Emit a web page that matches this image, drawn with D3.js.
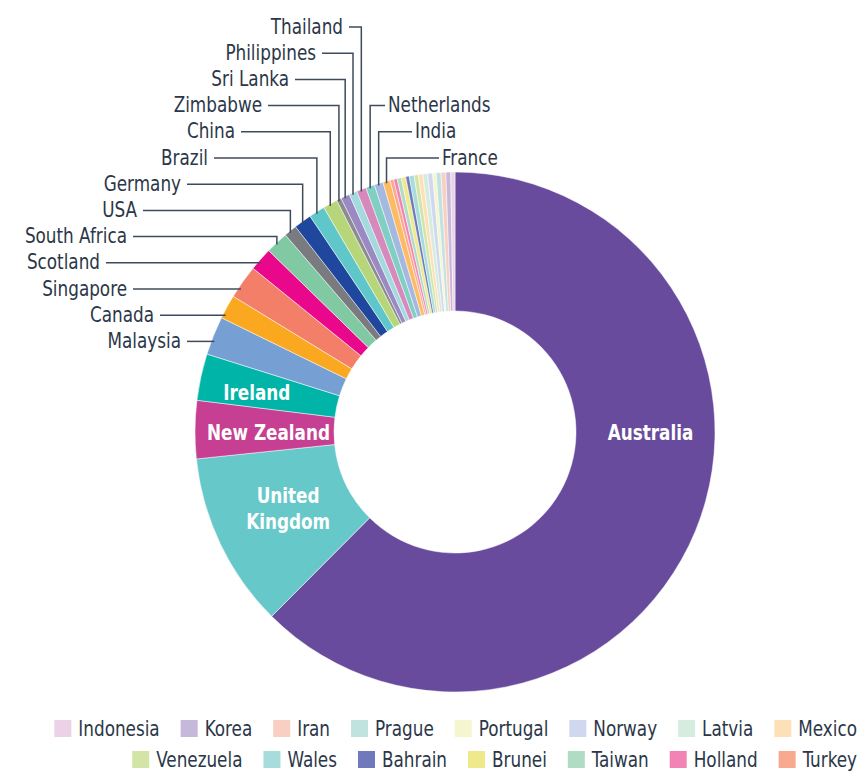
<!DOCTYPE html>
<html>
<head>
<meta charset="utf-8">
<script src="https://cdn.jsdelivr.net/npm/d3@7"></script>
<style>
  body { margin: 0; background: #fff; }
  svg text { font-family: 'DejaVu Sans Condensed', 'Liberation Sans Narrow', 'Roboto', sans-serif; }
</style>
</head>
<body>
<svg id="chart"></svg>
<script>
//////////////// Data ////////////////////
const countries = ["Australia", "United Kingdom", "New Zealand", "Ireland", "Malaysia", "Canada",
  "Singapore", "Scotland", "South Africa", "USA", "Germany", "Brazil", "China", "Zimbabwe",
  "Sri Lanka", "Philippines", "Thailand", "Netherlands", "India", "France",
  "Turkey", "Holland", "Taiwan", "Brunei", "Bahrain", "Wales", "Venezuela", "Mexico",
  "Latvia", "Norway", "Portugal", "Prague", "Iran", "Korea", "Indonesia"];
const shares = [62.5, 10.9, 3.6, 2.9, 2.4, 1.5,
  2.1, 1.45, 1.4, 0.8, 1.1, 1.0, 0.9, 0.3,
  0.55, 0.5, 0.6, 0.55, 0.55, 0.45,
  0.22, 0.22, 0.26, 0.28, 0.22, 0.3, 0.26, 0.28,
  0.3, 0.3, 0.22, 0.3, 0.3, 0.3, 0.26];
const colors = ["#684b9c", "#66c8c9", "#c63f92", "#00b4a8", "#769fd3", "#f9a81f",
  "#f47f68", "#e9088c", "#80c9a3", "#7a7b7f", "#1f479d", "#5fc6c9", "#b7d67a", "#8b8c8f",
  "#9a89c3", "#a3dade", "#d689bb", "#7fcfc2", "#a4b8e0", "#fdbb65",
  "#f9a98d", "#f283b5", "#b0dcc3", "#eee98b", "#6f79bb", "#a6dcdc", "#d2e5a6", "#fde0b8",
  "#d6ecdf", "#cfd8ef", "#f5f5d0", "#c0e3df", "#f9cfc4", "#c5b8db", "#ecd2e6"];

const insideLabels = ["Australia", "United Kingdom", "New Zealand", "Ireland"];
const leftLabels = ["Thailand", "Philippines", "Sri Lanka", "Zimbabwe", "China", "Brazil",
  "Germany", "USA", "South Africa", "Scotland", "Singapore", "Canada", "Malaysia"];
const rightLabels = ["Netherlands", "India", "France"];
const legendItems = countries.slice(20).reverse();

//////////////// Layout ////////////////////
const W = 863, H = 774,
  cx = 455, cy = 432,
  rOuter = 260, rInner = 121,
  sx = 0.85, // squeeze text horizontally, the original font is condensed
  textColor = "#2b3748",
  lineColor = "#3f4b5b";

const svg = d3.select("#chart").attr("width", W).attr("height", H);
const g = svg.append("g").attr("transform", "translate(" + cx + "," + cy + ")");

function addText(parent, x, y, str) {
  return parent.append("text")
    .attr("transform", "translate(" + x + "," + y + ") scale(" + sx + ",1)")
    .text(str);
}

const pie = d3.pie().sort(null).value(d => d);
const arc = d3.arc().innerRadius(rInner).outerRadius(rOuter);
const arcs = pie(shares);
arcs.forEach((a, i) => { a.name = countries[i]; a.color = colors[i]; });
const byName = {};
arcs.forEach(a => byName[a.name] = a);

g.selectAll("path.slice")
  .data(arcs)
  .enter()
  .append("path")
  .attr("class", "slice")
  .attr("d", arc)
  .attr("fill", d => d.color)
  .attr("stroke", "#fff")
  .attr("stroke-width", 0.5);

//////////////// Inside labels ///////////////
const labelR = (rInner + rOuter) / 2;
const angleOverride = {"Australia": Math.PI / 2};
const nudge = {"Australia": [5, 0], "Ireland": [-12, 0], "United Kingdom": [5, -6], "New Zealand": [4, 2]};
insideLabels.forEach(name => {
  const a = byName[name];
  const ang = angleOverride[name] !== undefined ? angleOverride[name] : (a.startAngle + a.endAngle) / 2;
  const n = nudge[name] || [0, 0];
  const x = labelR * Math.sin(ang) + n[0], y = -labelR * Math.cos(ang) + n[1];
  const words = name === "United Kingdom" ? ["United", "Kingdom"] : [name];
  words.forEach((w, j) => {
    addText(g, x, y + (j - (words.length - 1) / 2) * 26, w)
      .attr("dy", "0.36em")
      .attr("text-anchor", "middle")
      .attr("fill", "#fff")
      .style("font-weight", "bold")
      .style("font-size", "22px");
  });
});

//////////////// Outside labels ///////////////
const rowY = i => 27 + 26.2 * i - cy; // leader line y, relative to center
const labelShift = {"USA": -17};

function leader(name, lineY, textX) {
  const a = byName[name];
  const mid = (a.startAngle + a.endAngle) / 2;
  const px = rOuter * Math.sin(mid), py = -rOuter * Math.cos(mid);
  let pts;
  if (py > lineY + 2) {
    pts = [[textX, lineY], [px, lineY], [px, py + 2]];
  } else {
    const ex = -Math.sqrt(rOuter * rOuter - lineY * lineY) + 3;
    pts = [[textX, lineY], [ex, lineY]];
  }
  g.append("path")
    .attr("d", d3.line()(pts))
    .attr("fill", "none")
    .attr("stroke", lineColor)
    .attr("stroke-width", 1.5);
}

leftLabels.forEach((name, i) => {
  const ly = rowY(i);
  const xEnd = 100 + 27 * Math.abs(i - 9) + (labelShift[name] || 0) - cx;
  addText(g, xEnd, ly, name)
    .attr("dy", "0.3em")
    .attr("text-anchor", "end")
    .attr("fill", textColor)
    .style("font-size", "22px");
  leader(name, ly, xEnd + 6);
});

rightLabels.forEach((name, k) => {
  const ly = rowY(k + 3);
  const xStart = 388 + 27 * k - cx;
  addText(g, xStart, ly, name)
    .attr("dy", "0.3em")
    .attr("fill", textColor)
    .style("font-size", "22px");
  leader(name, ly, xStart - 3);
});

//////////////// Legend ///////////////
const sw = 17, swGap = 7, itemGap = 21, legendRight = 857, maxRow = 815;
const legend = svg.append("g").attr("class", "legend");
const items = legendItems.map(name => {
  const it = legend.append("g");
  it.append("rect").attr("width", sw).attr("height", sw).attr("fill", byName[name].color);
  const t = addText(it, sw + swGap, sw / 2, name)
    .attr("dy", "0.36em")
    .attr("fill", textColor)
    .style("font-size", "22px");
  return {g: it, w: sw + swGap + sx * t.node().getComputedTextLength()};
});
const rows = [[]];
let rowW = 0;
items.forEach(it => {
  const add = (rows[rows.length - 1].length ? itemGap : 0) + it.w;
  if (rowW + add > maxRow) { rows.push([it]); rowW = it.w; }
  else { rows[rows.length - 1].push(it); rowW += add; }
});
rows.forEach((row, r) => {
  let x = legendRight;
  for (let j = row.length - 1; j >= 0; j--) {
    x -= row[j].w;
    row[j].g.attr("transform", "translate(" + x + "," + (720 + 31 * r) + ")");
    x -= itemGap;
  }
});
</script>
</body>
</html>
